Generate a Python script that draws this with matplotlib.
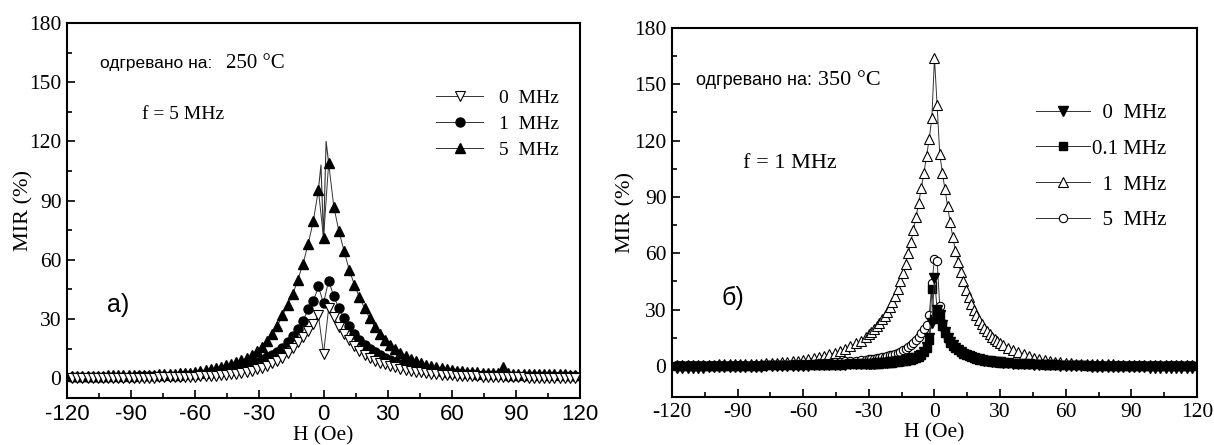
import matplotlib
matplotlib.use("Agg")
import matplotlib.pyplot as plt
from matplotlib.ticker import FixedLocator

plt.rcParams["font.family"] = ["Liberation Serif", "DejaVu Serif"]
plt.rcParams["axes.unicode_minus"] = False
SANS = ["Liberation Sans", "DejaVu Sans"]

# ---------------- panel a) : annealed at 250 C ----------------
H_A = [-117.6, -115.2, -112.8, -110.4, -108.0, -105.6, -103.2, -100.8, -98.4, -96.0,
       -93.6, -91.2, -88.8, -86.4, -84.0, -81.6, -79.2, -76.8, -74.4, -72.0,
       -69.6, -67.2, -64.8, -62.4, -60.0, -57.6, -55.2, -52.8, -50.4, -48.0,
       -45.6, -43.2, -40.8, -38.4, -36.0, -33.6, -31.2, -28.8, -26.4, -24.0,
       -21.6, -19.2, -16.8, -14.4, -12.0, -9.6, -7.2, -4.8, -2.4, 0.0,
       2.4, 4.8, 7.2, 9.6, 12.0, 14.4, 16.8, 19.2, 21.6, 24.0,
       26.4, 28.8, 31.2, 33.6, 36.0, 38.4, 40.8, 43.2, 45.6, 48.0,
       50.4, 52.8, 55.2, 57.6, 60.0, 62.4, 64.8, 67.2, 69.6, 72.0,
       74.4, 76.8, 79.2, 81.6, 84.0, 86.4, 88.8, 91.2, 93.6, 96.0,
       98.4, 100.8, 103.2, 105.6, 108.0, 110.4, 112.8, 115.2, 117.6]

MIR_A_0MHZ = [0.0, 0.0, 0.0, 0.0, 0.1, 0.1, 0.1, 0.1, 0.1, 0.2,
              0.2, 0.2, 0.2, 0.3, 0.3, 0.3, 0.3, 0.4, 0.4, 0.5,
              0.5, 0.6, 0.6, 0.7, 0.8, 0.9, 1.0, 1.1, 1.3, 1.5,
              1.7, 2.0, 2.4, 2.8, 3.3, 3.9, 4.6, 5.3, 6.3, 7.5,
              8.8, 10.5, 13.0, 15.5, 18.5, 21.0, 24.0, 27.5, 32.0, 12.5,
              35.5, 31.0, 26.0, 22.5, 19.5, 16.5, 14.0, 12.0, 10.3, 9.0,
              7.9, 7.0, 6.2, 5.5, 4.9, 4.3, 3.8, 3.4, 3.0, 2.7,
              2.4, 2.1, 1.9, 1.7, 1.5, 1.3, 1.2, 1.1, 1.0, 0.9,
              0.8, 0.7, 0.7, 0.6, 0.6, 0.5, 0.5, 0.4, 0.4, 0.3,
              0.3, 0.3, 0.2, 0.2, 0.2, 0.1, 0.1, 0.1, 0.0]

MIR_A_1MHZ = [0.6, 0.6, 0.6, 0.6, 0.6, 0.7, 0.7, 0.7, 0.7, 0.8,
              0.8, 0.8, 0.8, 0.9, 0.9, 0.9, 1.0, 1.0, 1.1, 1.2,
              1.3, 1.4, 1.5, 1.6, 1.8, 2.0, 2.2, 2.5, 2.9, 3.3,
              3.8, 4.3, 4.9, 5.6, 6.5, 7.4, 8.3, 9.4, 10.6, 12.0,
              13.5, 15.5, 18.5, 21.5, 25.0, 29.0, 35.0, 39.0, 46.5, 38.0,
              49.5, 41.5, 35.5, 30.5, 26.5, 22.5, 19.5, 17.0, 15.0, 13.2,
              11.7, 10.4, 9.3, 8.3, 7.4, 6.6, 5.9, 5.3, 4.8, 4.3,
              3.9, 3.5, 3.2, 2.9, 2.7, 2.5, 2.3, 2.1, 2.0, 1.9,
              1.8, 1.7, 1.6, 1.5, 1.5, 1.4, 1.4, 1.3, 1.3, 1.2,
              1.2, 1.2, 1.1, 1.1, 1.1, 1.0, 1.0, 1.0, 1.0]

MIR_A_5MHZ = [1.2, 1.3, 1.3, 1.3, 1.4, 1.4, 1.4, 1.5, 1.5, 1.5,
              1.6, 1.6, 1.7, 1.7, 1.8, 1.8, 1.9, 2.0, 2.1, 2.2,
              2.3, 2.5, 2.7, 2.9, 3.2, 3.6, 4.1, 4.6, 5.2, 5.8,
              6.5, 7.4, 8.2, 9.2, 10.2, 12.0, 14.0, 16.0, 19.0, 22.5,
              26.5, 32.0, 37.0, 42.5, 50.0, 58.0, 68.0, 79.5, 95.5, 71.0,
              109.0, 87.0, 74.5, 64.5, 55.0, 47.5, 41.0, 35.5, 30.5, 26.0,
              22.5, 19.5, 17.0, 14.8, 13.0, 11.4, 10.0, 8.8, 7.8, 6.9,
              6.2, 5.6, 5.1, 4.6, 4.2, 3.9, 3.6, 3.4, 3.2, 3.0,
              2.9, 2.8, 2.7, 2.6, 5.5, 2.5, 2.4, 2.4, 2.3, 2.3,
              2.2, 2.2, 2.1, 2.1, 2.0, 2.0, 2.0, 1.9, 1.9]

# line-only readings between the markers around H = 0 (5 MHz curve)
H_A_SPIKE = [-2.4, -1.2, 0.0, 1.2, 2.4]
MIR_A_SPIKE = [95.5, 108.0, 71.0, 120.0, 109.0]

# ---------------- panel б) : annealed at 350 C ----------------
H_B = [-117.6, -115.2, -112.8, -110.4, -108.0, -105.6, -103.2, -100.8, -98.4, -96.0,
       -93.6, -91.2, -88.8, -86.4, -84.0, -81.6, -79.2, -76.8, -74.4, -72.0,
       -69.6, -67.2, -64.8, -62.4, -60.0, -57.6, -55.2, -52.8, -50.4, -48.0,
       -45.6, -43.2, -40.8, -38.4, -36.0, -33.6, -31.2,
       -30.0, -28.8, -27.6, -26.4, -25.2, -24.0, -22.8, -21.6, -20.4, -19.2,
       -18.0, -16.8, -15.6, -14.4, -13.2, -12.0, -10.8, -9.6, -8.4, -7.2,
       -6.0, -4.8, -3.6, -2.4, -1.2, 0.0, 1.2, 2.4, 3.6, 4.8,
       6.0, 7.2, 8.4, 9.6, 10.8, 12.0, 13.2, 14.4, 15.6, 16.8,
       18.0, 19.2, 20.4, 21.6, 22.8, 24.0, 25.2, 26.4, 27.6, 28.8, 30.0,
       31.2, 33.6, 36.0, 38.4, 40.8, 43.2, 45.6, 48.0, 50.4, 52.8,
       55.2, 57.6, 60.0, 62.4, 64.8, 67.2, 69.6, 72.0, 74.4, 76.8,
       79.2, 81.6, 84.0, 86.4, 88.8, 91.2, 93.6, 96.0, 98.4, 100.8,
       103.2, 105.6, 108.0, 110.4, 112.8, 115.2, 117.6]

MIR_B_0MHZ = [-0.9, -0.9, -0.9, -0.8, -0.8, -0.8, -0.7, -0.7, -0.7, -0.6,
              -0.6, -0.5, -0.5, -0.4, -0.4, -0.3, -0.3, -0.2, -0.2, -0.1,
              -0.1, 0.0, 0.1, 0.1, 0.2, 0.2, 0.3, 0.3, 0.4, 0.4,
              0.5, 0.6, 0.7, 0.8, 0.9, 1.0, 1.1,
              1.2, 1.3, 1.3, 1.4, 1.5, 1.6, 1.7, 1.8, 1.9, 2.0,
              2.2, 2.4, 2.6, 2.8, 3.0, 3.3, 3.6, 4.0, 4.5, 5.1,
              6.0, 7.5, 10.0, 15.0, 23.0, 47.0, 30.0, 27.0, 22.0, 18.0,
              15.0, 12.8, 11.0, 9.6, 8.4, 7.4, 6.6, 5.9, 5.3, 4.8,
              4.3, 3.9, 3.5, 3.2, 2.9, 2.7, 2.5, 2.3, 2.1, 2.0, 1.9,
              1.7, 1.5, 1.3, 1.1, 0.9, 0.8, 0.7, 0.6, 0.5, 0.4,
              0.3, 0.2, 0.1, 0.0, -0.1, -0.2, -0.2, -0.3, -0.3, -0.4,
              -0.4, -0.5, -0.5, -0.6, -0.6, -0.7, -0.7, -0.7, -0.8, -0.8,
              -0.8, -0.9, -0.9, -0.9, -0.9, -0.9, -0.9]

MIR_B_01MHZ = [0.0, 0.0, 0.0, 0.0, 0.0, 0.0, 0.0, 0.0, 0.0, 0.0,
               0.1, 0.1, 0.1, 0.1, 0.2, 0.2, 0.2, 0.3, 0.3, 0.3,
               0.4, 0.4, 0.4, 0.5, 0.5, 0.5, 0.6, 0.6, 0.6, 0.7,
               0.7, 0.7, 0.8, 0.8, 0.8, 0.9, 0.9,
               1.0, 1.1, 1.1, 1.2, 1.3, 1.4, 1.5, 1.6, 1.7, 1.8,
               2.0, 2.2, 2.4, 2.6, 2.8, 3.1, 3.4, 3.8, 4.3, 5.0,
               5.9, 7.2, 9.5, 14.0, 41.0, 25.0, 29.0, 26.5, 21.5, 17.5,
               14.7, 12.5, 10.8, 9.4, 8.3, 7.3, 6.5, 5.8, 5.2, 4.7,
               4.2, 3.8, 3.4, 3.1, 2.8, 2.6, 2.4, 2.2, 2.0, 1.9, 1.8,
               1.7, 1.5, 1.4, 1.2, 1.1, 1.0, 0.9, 0.8, 0.7, 0.6,
               0.5, 0.5, 0.4, 0.4, 0.3, 0.3, 0.2, 0.2, 0.2, 0.1,
               0.1, 0.1, 0.1, 0.0, 0.0, 0.0, 0.0, 0.0, 0.0, 0.0,
               0.0, 0.0, 0.0, 0.0, 0.0, 0.0, 0.0]

MIR_B_1MHZ = [0.6, 0.6, 0.6, 0.6, 0.6, 0.7, 0.7, 0.7, 0.8, 0.8,
              0.8, 0.9, 0.9, 1.0, 1.1, 1.2, 1.3, 1.4, 1.5, 1.7,
              1.9, 2.1, 2.4, 2.7, 3.1, 3.6, 4.1, 4.7, 5.4, 6.2,
              7.0, 8.0, 9.2, 10.5, 12.0, 13.5, 15.2,
              16.8, 18.3, 19.8, 21.3, 23.0, 24.8, 26.8, 29.0, 31.5, 34.3,
              37.5, 41.0, 45.0, 49.5, 54.5, 60.0, 66.0, 72.5, 79.5, 87.0,
              95.0, 103.0, 112.0, 121.0, 132.0, 164.0, 139.0, 113.0, 103.0, 94.0,
              85.0, 76.5, 68.5, 61.5, 55.5, 50.0, 45.0, 40.5, 36.5, 33.0,
              30.0, 27.2, 24.7, 22.5, 20.5, 18.7, 17.1, 15.7, 14.4, 13.2, 12.2,
              11.3, 9.7, 8.4, 7.2, 6.2, 5.3, 4.5, 3.8, 3.2, 2.7,
              2.3, 2.0, 1.7, 1.5, 1.3, 1.2, 1.1, 1.0, 0.9, 0.9,
              0.8, 0.8, 0.7, 0.7, 0.7, 0.6, 0.6, 0.6, 0.6, 0.6,
              0.6, 0.6, 0.6, 0.6, 0.6, 0.6, 0.6]

MIR_B_5MHZ = [0.3, 0.3, 0.3, 0.3, 0.3, 0.3, 0.3, 0.3, 0.3, 0.4,
              0.4, 0.4, 0.4, 0.4, 0.4, 0.5, 0.5, 0.5, 0.5, 0.6,
              0.6, 0.7, 0.8, 0.9, 1.0, 1.1, 1.2, 1.4, 1.6, 1.8,
              2.0, 2.2, 2.4, 2.6, 2.8, 3.0, 3.3,
              3.5, 3.7, 3.9, 4.1, 4.3, 4.6, 4.9, 5.2, 5.6, 6.0,
              6.5, 7.0, 7.6, 8.3, 9.1, 10.0, 11.0, 12.3, 13.8, 15.5,
              17.5, 19.5, 22.0, 27.0, 44.0, 57.0, 56.0, 32.0, 23.0, 18.5,
              15.0, 12.5, 10.8, 9.4, 8.3, 7.4, 6.6, 6.0, 5.4, 4.9,
              4.5, 4.1, 3.8, 3.5, 3.2, 3.0, 2.8, 2.6, 2.4, 2.3, 2.1,
              2.0, 1.8, 1.6, 1.4, 1.3, 1.2, 1.1, 1.0, 0.9, 0.8,
              0.8, 0.7, 0.7, 0.6, 0.6, 0.5, 0.5, 0.5, 0.4, 0.4,
              0.4, 0.4, 0.3, 0.3, 0.3, 0.3, 0.3, 0.3, 0.3, 0.3,
              0.3, 0.3, 0.3, 0.3, 0.3, 0.3, 0.3]

X_TICKS = [-120, -90, -60, -30, 0, 30, 60, 90, 120]
X_MINOR = [-105, -75, -45, -15, 15, 45, 75, 105]
Y_TICKS = [0, 30, 60, 90, 120, 150, 180]
Y_MINOR = [15, 45, 75, 105, 135, 165]

LINE = "#333333"


def style_axes(ax, ymin, xfont, xsize, ypad):
    ax.set_xlim(-120, 120)
    ax.set_ylim(ymin, 180)
    ax.set_xticks(X_TICKS)
    ax.set_xticklabels([str(t) for t in X_TICKS], fontfamily=xfont, fontsize=xsize)
    ax.set_yticks(Y_TICKS)
    ax.xaxis.set_minor_locator(FixedLocator(X_MINOR))
    ax.yaxis.set_minor_locator(FixedLocator(Y_MINOR))
    ax.tick_params(which="both", direction="in", top=False, right=False,
                   width=1.2, colors="black")
    ax.tick_params(axis="y", which="major", labelsize=15.5)
    ax.tick_params(which="major", length=6, pad=4)
    ax.tick_params(which="minor", length=3.5)
    for s in ax.spines.values():
        s.set_linewidth(1.5)
    ax.set_xlabel("H (Oe)", fontsize=15.5, labelpad=1)
    ax.set_ylabel("MIR (%)", fontsize=16, labelpad=ypad)


fig = plt.figure(figsize=(12.14, 4.45), dpi=100)
axA = fig.add_axes([0.0552, 0.1056, 0.4226, 0.8427])
axB = fig.add_axes([0.5535, 0.1079, 0.4325, 0.8292])

# panel a)
axA.plot(H_A_SPIKE, MIR_A_SPIKE, color=LINE, lw=0.8, zorder=1)
l5, = axA.plot(H_A, MIR_A_5MHZ, color=LINE, lw=0.7, marker="^", ms=7.5,
               mfc="black", mec="black", label="5  MHz", zorder=2)
l1, = axA.plot(H_A, MIR_A_1MHZ, color=LINE, lw=0.7, marker="o", ms=6.5,
               mfc="black", mec="black", label="1  MHz", zorder=3)
l0, = axA.plot(H_A, MIR_A_0MHZ, color=LINE, lw=0.7, marker="v", ms=7,
               mfc="white", mec="black", mew=0.8, label="0  MHz", zorder=4)
style_axes(axA, -10, SANS, 16, -3)
axA.legend(handles=[l0, l1, l5], loc="upper left", bbox_to_anchor=(0.72, 0.824),
           frameon=False, fontsize=14, handlelength=2.4, handletextpad=0.8,
           labelspacing=0.43, borderpad=0, borderaxespad=0, numpoints=1)
axA.text(0.064, 0.893, "одгревано на:", transform=axA.transAxes, fontsize=12.5,
         family=SANS, va="center")
axA.text(0.31, 0.893, "250 \u00b0C", transform=axA.transAxes, fontsize=15, va="center")
axA.text(0.146, 0.755, "f = 5 MHz", transform=axA.transAxes, fontsize=14, va="center")
axA.text(0.078, 0.248, "а)", transform=axA.transAxes, fontsize=18, family=SANS,
         va="center")

# panel б) - filled markers on top so the baseline reads as a solid band
m1, = axB.plot(H_B, MIR_B_1MHZ, color=LINE, lw=0.7, marker="^", ms=6.5,
               mfc="white", mec="black", mew=0.8, label="  1  MHz", zorder=2)
m5, = axB.plot(H_B, MIR_B_5MHZ, color=LINE, lw=0.7, marker="o", ms=6,
               mfc="white", mec="black", mew=0.8, label="  5  MHz", zorder=3)
m01, = axB.plot(H_B, MIR_B_01MHZ, color=LINE, lw=0.7, marker="s", ms=5.5,
                mfc="black", mec="black", label="0.1 MHz", zorder=4)
m0, = axB.plot(H_B, MIR_B_0MHZ, color=LINE, lw=0.7, marker="v", ms=6.5,
               mfc="black", mec="black", label="  0  MHz", zorder=5)
style_axes(axB, -16.5, None, 15.5, -1)
axB.legend(handles=[m0, m01, m1, m5], loc="upper left", bbox_to_anchor=(0.693, 0.796),
           frameon=False, fontsize=15, handlelength=2.6, handletextpad=0.1,
           labelspacing=0.78, borderpad=0, borderaxespad=0, numpoints=1)
axB.text(0.046, 0.859, "одгревано на:", transform=axB.transAxes, fontsize=13,
         family=SANS, va="center")
axB.text(0.278, 0.859, "350 \u00b0C", transform=axB.transAxes, fontsize=16, va="center")
axB.text(0.135, 0.634, "f = 1 MHz", transform=axB.transAxes, fontsize=16, va="center")
axB.text(0.095, 0.268, "б)", transform=axB.transAxes, fontsize=18, family=SANS,
         va="center")

fig.savefig("out.png", dpi=100)
